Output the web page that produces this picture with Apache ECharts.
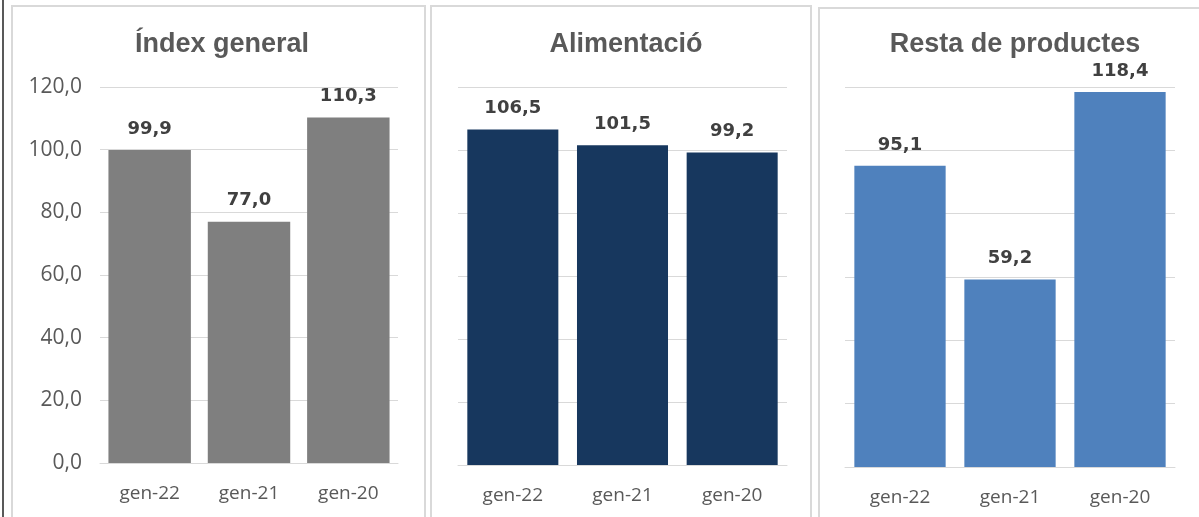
<!DOCTYPE html>
<html>
<head>
<meta charset="utf-8">
<script src="https://cdn.jsdelivr.net/npm/echarts@6/dist/echarts.min.js"></script>
<style>
html,body{margin:0;padding:0;background:#fff;}
#c{width:1199px;height:517px;}
</style>
</head>
<body>
<div id="c"></div>
<script>
const categories = ['gen-22', 'gen-21', 'gen-20'];
const titles = ['Índex general', 'Alimentació', 'Resta de productes'];
const indexGeneral = [99.9, 77.0, 110.3];
const alimentacio = [106.5, 101.5, 99.2];
const restaProductes = [95.1, 59.2, 118.4];
const yTicks = [0, 20, 40, 60, 80, 100, 120];

const seriesData = [indexGeneral, alimentacio, restaProductes];
const colors = ['#7f7f7f', '#17375e', '#4f81bd'];
const grids = [
  {left: 100, width: 298, top: 87, bottom: 54},
  {left: 458, width: 329, top: 87, bottom: 52},
  {left: 845, width: 330, top: 87, bottom: 50}
];
const titleX = [217, 621, 1010];
const fmt = v => v.toFixed(1).replace('.', ',');

const chart = echarts.init(document.getElementById('c'), null, {renderer: 'canvas'});
chart.setOption({
  animation: false,
  backgroundColor: '#fff',
  title: titles.map((t, i) => ({
    text: t,
    left: titleX[i],
    top: 26,
    textAlign: 'center',
    textStyle: {fontFamily: 'Liberation Sans', fontWeight: 'bold', fontSize: 27, color: '#595959'}
  })),
  graphic: [
    {type: 'line', shape: {x1: 3, y1: 0, x2: 3, y2: 517}, style: {stroke: '#595959', lineWidth: 2}},
    {type: 'rect', shape: {x: 12, y: 6, width: 413, height: 530}, style: {fill: 'none', stroke: '#d9d9d9', lineWidth: 2}},
    {type: 'rect', shape: {x: 431, y: 6, width: 380, height: 530}, style: {fill: 'none', stroke: '#d9d9d9', lineWidth: 2}},
    {type: 'rect', shape: {x: 819, y: 8, width: 420, height: 530}, style: {fill: 'none', stroke: '#d9d9d9', lineWidth: 2}}
  ],
  grid: grids,
  xAxis: grids.map((g, i) => ({
    type: 'category',
    gridIndex: i,
    data: categories,
    axisTick: {show: false},
    axisLine: {lineStyle: {color: '#d9d9d9', width: 1}},
    axisLabel: {color: '#595959', fontFamily: 'Open Sans', fontSize: 19, margin: 21}
  })),
  yAxis: grids.map((g, i) => ({
    type: 'value',
    gridIndex: i,
    min: yTicks[0],
    max: yTicks[yTicks.length - 1],
    interval: yTicks[1] - yTicks[0],
    axisLine: {show: false},
    axisTick: {show: false},
    splitLine: {lineStyle: {color: '#d9d9d9', width: 1}},
    axisLabel: {show: i === 0, color: '#595959', fontFamily: 'Open Sans', fontSize: 21, margin: 18, formatter: v => fmt(v)}
  })),
  series: seriesData.map((d, i) => ({
    type: 'bar',
    xAxisIndex: i,
    yAxisIndex: i,
    data: d,
    barCategoryGap: '17%',
    itemStyle: {color: colors[i]},
    label: {
      show: true,
      position: 'top',
      distance: 12,
      color: '#404040',
      fontFamily: 'DejaVu Sans',
      fontWeight: 'bold',
      fontSize: 18,
      formatter: p => fmt(p.value)
    }
  }))
});
</script>
</body>
</html>
